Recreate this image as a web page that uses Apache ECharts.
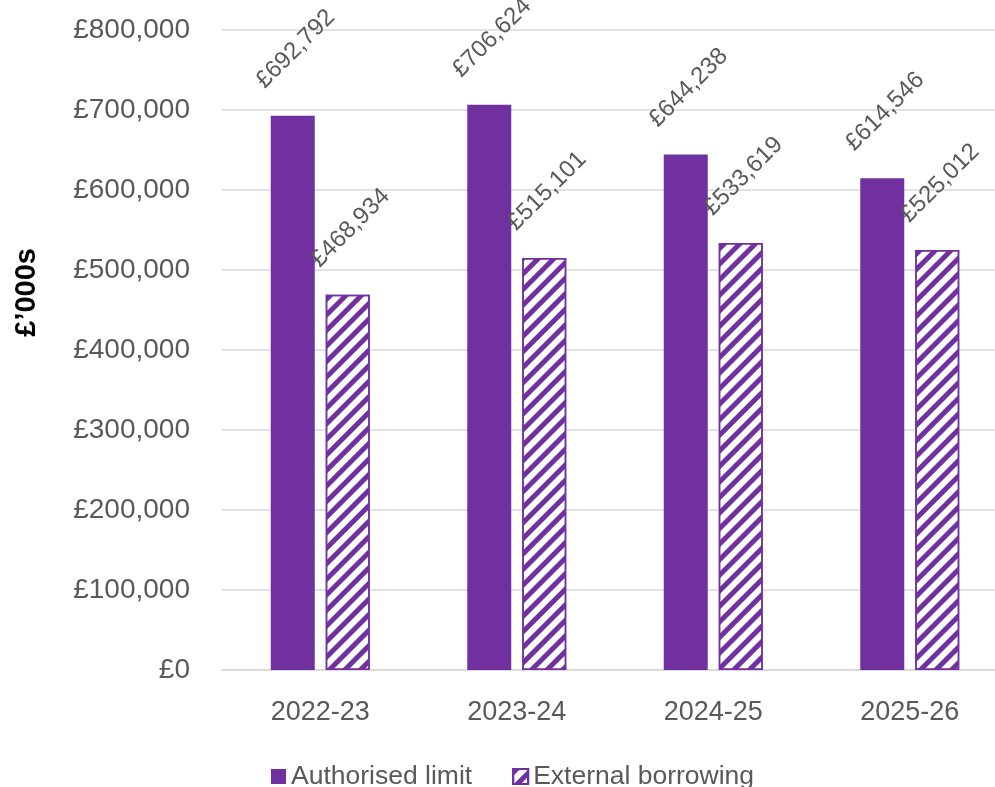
<!DOCTYPE html>
<html>
<head>
<meta charset="utf-8">
<title>Authorised limit vs external borrowing</title>
<script src="https://cdn.jsdelivr.net/npm/echarts@6/dist/echarts.min.js"></script>
<style>
    html, body { margin: 0; padding: 0; background: #fff; }
    #chart { width: 995px; height: 787px; }
</style>
</head>
<body>
<!--chart-->
<div id="chart"></div>
<script>
    // data (£'000s)
    var years = ['2022-23', '2023-24', '2024-25', '2025-26'];
    var authorisedLimit = [692792, 706624, 644238, 614546];
    var externalBorrowing = [468934, 515101, 533619, 525012];
    var seriesNames = ['Authorised limit', 'External borrowing'];
    var yTicks = {min: 0, max: 800000, interval: 100000};

    var purple = '#7030a0';
    var grey = '#595959';
    var font = '"Liberation Sans", Arial, sans-serif';

    function money(v) {
        return '£' + Number(v).toLocaleString('en-GB');
    }

    // labels sit rotated above each bar
    var barLabel = {
        show: true,
        position: 'top',
        distance: 64,
        offset: [4, 0],
        rotate: 45,
        align: 'center',
        verticalAlign: 'middle',
        color: grey,
        fontFamily: font,
        fontSize: 24,
        formatter: function (p) { return money(p.value); }
    };

    var myChart = echarts.init(document.getElementById('chart'));
    myChart.setOption({
        animation: false,
        textStyle: {fontFamily: font},
        grid: {
            left: 222,
            width: 786,
            top: 30,
            bottom: 117,
            containLabel: false,
            outerBoundsMode: 'none'
        },
        legend: {
            data: seriesNames,
            left: 266,
            top: 758,
            icon: 'rect',
            itemWidth: 15,
            itemHeight: 15,
            itemGap: 40,
            textStyle: {color: grey, fontSize: 26.5, fontFamily: font}
        },
        graphic: [{
            type: 'text',
            left: 12,
            top: 248,
            rotation: Math.PI / 2,
            style: {
                text: '£’000s',
                fill: '#000',
                font: 'bold 29px ' + font
            }
        }],
        xAxis: {
            type: 'category',
            data: years,
            axisTick: {show: false},
            axisLine: {lineStyle: {color: '#d9d9d9', width: 1.5}},
            axisLabel: {color: grey, fontSize: 27, margin: 29}
        },
        yAxis: {
            type: 'value',
            min: yTicks.min,
            max: yTicks.max,
            interval: yTicks.interval,
            axisLabel: {
                color: grey,
                fontSize: 28,
                margin: 32,
                formatter: money
            },
            splitLine: {lineStyle: {color: '#d9d9d9', width: 1.5}}
        },
        series: [
            {
                name: seriesNames[0],
                type: 'bar',
                data: authorisedLimit,
                barWidth: 44,
                barGap: '25%',
                itemStyle: {color: purple},
                label: barLabel
            },
            {
                name: seriesNames[1],
                type: 'bar',
                data: externalBorrowing,
                barWidth: 44,
                itemStyle: {
                    color: '#fff',
                    borderColor: purple,
                    borderWidth: 1.5,
                    decal: {
                        symbol: 'rect',
                        color: purple,
                        dashArrayX: [1, 0],
                        dashArrayY: [5, 5.5],
                        rotation: -Math.PI / 4
                    }
                },
                label: barLabel
            }
        ]
    });
</script>
</body>
</html>
